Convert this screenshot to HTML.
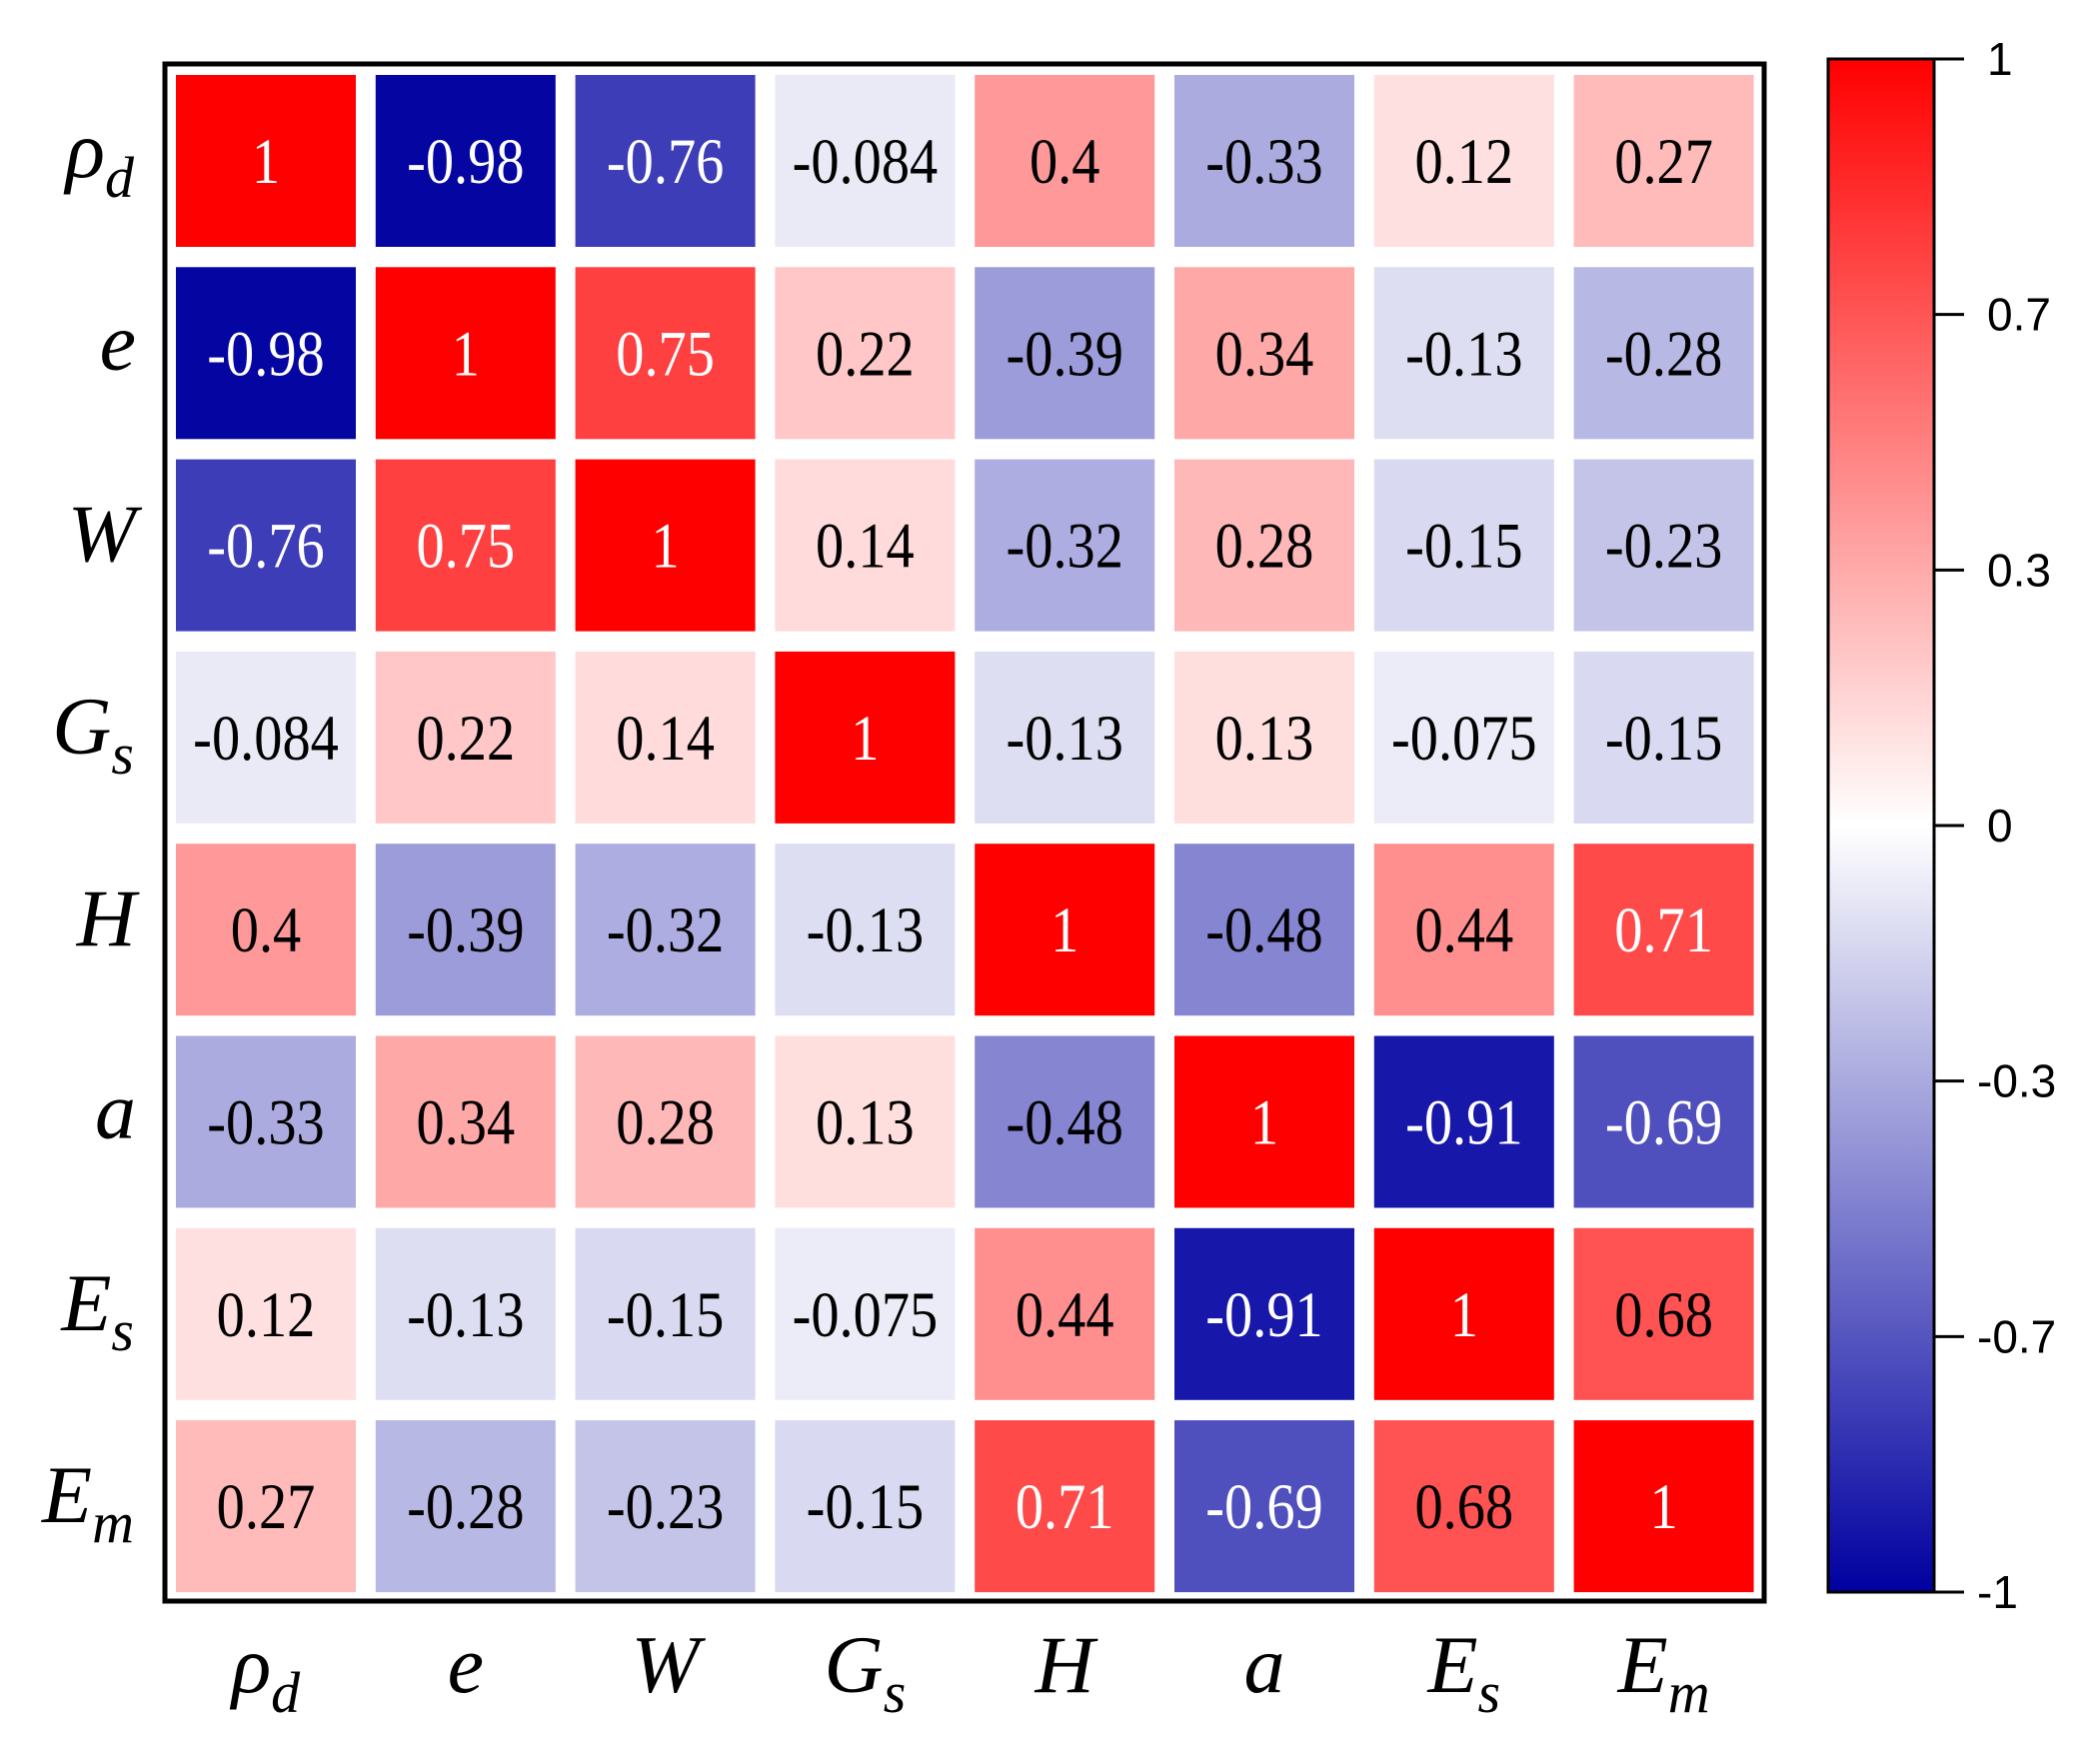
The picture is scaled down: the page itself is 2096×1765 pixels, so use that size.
<!DOCTYPE html>
<html><head><meta charset="utf-8"><style>
html,body{margin:0;padding:0;background:#fff;}
svg{display:block;}
</style></head><body>
<svg id="chart" width="2096" height="1765" viewBox="0 0 2096 1765" xmlns="http://www.w3.org/2000/svg">
<defs>
<linearGradient id="cbgrad" x1="0" y1="1" x2="0" y2="0">
<stop offset="0" stop-color="rgb(0,0,160)"/>
<stop offset="0.5" stop-color="rgb(255,255,255)"/>
<stop offset="1" stop-color="rgb(255,0,0)"/>
</linearGradient>
</defs>
<g id="cells"></g>
<rect x="165" y="64" width="1600" height="1538" fill="none" stroke="#000" stroke-width="5"/>
<g id="rowlabels"></g>
<g id="collabels"></g>
<rect x="1829" y="59" width="106" height="1534" fill="url(#cbgrad)" stroke="#000" stroke-width="3"/>
<g id="cbticks"></g>
</svg>
<script>
const labelMain = ["ρ","e","W","G","H","a","E","E"];
const labelSub = ["d","","","s","","","s","m"];
const corrValues = [
 [1,-0.98,-0.76,-0.084,0.4,-0.33,0.12,0.27],
 [-0.98,1,0.75,0.22,-0.39,0.34,-0.13,-0.28],
 [-0.76,0.75,1,0.14,-0.32,0.28,-0.15,-0.23],
 [-0.084,0.22,0.14,1,-0.13,0.13,-0.075,-0.15],
 [0.4,-0.39,-0.32,-0.13,1,-0.48,0.44,0.71],
 [-0.33,0.34,0.28,0.13,-0.48,1,-0.91,-0.69],
 [0.12,-0.13,-0.15,-0.075,0.44,-0.91,1,0.68],
 [0.27,-0.28,-0.23,-0.15,0.71,-0.69,0.68,1]
];
const cbTickLabels = ["1","0.7","0.3","0","-0.3","-0.7","-1"];

const NS = "http://www.w3.org/2000/svg";
const x0 = 176, pitchX = 199.8, cellW = 180;
const y0 = 75, pitchY = 192.3, cellH = 172;
function xPos(i){return x0 + i*pitchX;}
function yPos(j){return y0 + j*pitchY;}
function color(v){
  if(v>=0){const c=Math.round(255*(1-v));return `rgb(255,${c},${c})`;}
  const t=-v;const c=Math.round(255*(1-t));const b=Math.round(255-95*t);
  return `rgb(${c},${c},${b})`;
}
function mk(tag,attrs){const e=document.createElementNS(NS,tag);for(const k in attrs)e.setAttribute(k,attrs[k]);return e;}
const cells=document.getElementById('cells');
corrValues.forEach((row,j)=>{
  row.forEach((v,i)=>{
    const r=mk('rect',{x:xPos(i),y:yPos(j),width:cellW,height:cellH,fill:color(v)});
    
    
    cells.appendChild(r);
    const cx=xPos(i)+cellW/2, cy=yPos(j)+cellH/2+22;
    const t=mk('text',{x:0,y:0,transform:`translate(${cx},${cy}) scale(0.94,1.08)`,'text-anchor':'middle','font-family':'"Liberation Serif", serif','font-size':60,fill:Math.abs(v)>=0.69?'#fff':'#000'});
    t.textContent=String(v);
    
    
    cells.appendChild(t);
  });
});
function addLabel(g,x,y,anchor,i){
  const t=mk('text',{x:x,y:y,'text-anchor':anchor,'font-family':'"Liberation Serif", serif','font-style':'italic','font-size':82});
  t.appendChild(document.createTextNode(labelMain[i]));
  if(labelSub[i]){
    const s=mk('tspan',{'font-size':58,dy:20});
    s.textContent=labelSub[i];
    t.appendChild(s);
  }
  g.appendChild(t);
  return t;
}
const rl=document.getElementById('rowlabels');
labelMain.forEach((m,j)=>{
  const t=addLabel(rl,134,yPos(j)+cellH/2+16,'end',j);
  if(!labelSub[j]) t.setAttribute('x',136);
  
  
});
const cl=document.getElementById('collabels');
labelMain.forEach((m,i)=>{
  const t=addLabel(cl,xPos(i)+cellW/2,1693,'middle',i);
  
  
});
const cb=document.getElementById('cbticks');
const cbTop=59, cbBot=1593;
cbTickLabels.forEach((lab,k)=>{
  const y=cbTop+k*(cbBot-cbTop)/(cbTickLabels.length-1);
  const l=mk('line',{x1:1935,x2:1965,y1:y,y2:y,stroke:'#000','stroke-width':3});
  
  
  cb.appendChild(l);
  const t=mk('text',{x:lab.startsWith('-')?1978:1988,y:y+16,'font-family':'"Liberation Sans", sans-serif','font-size':46});
  t.textContent=lab;
  
  
  cb.appendChild(t);
});
</script>
</body></html>
